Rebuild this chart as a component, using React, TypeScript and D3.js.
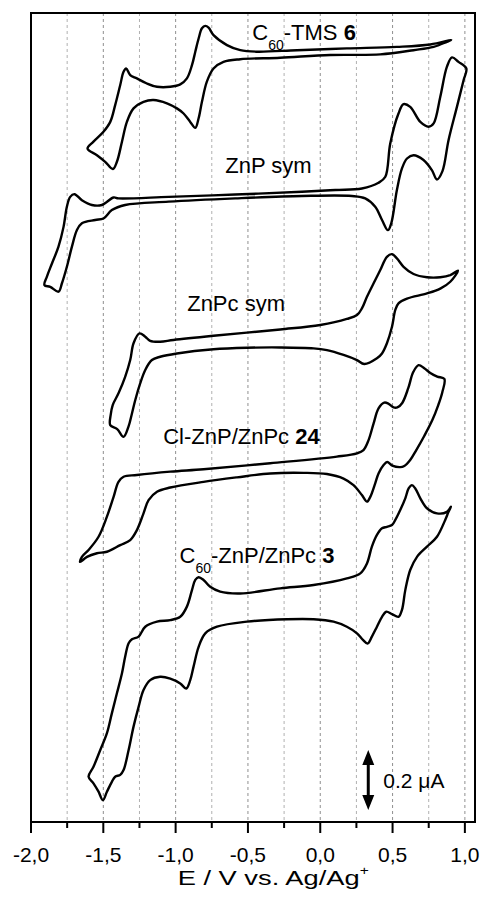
import React from 'react';
import * as d3 from 'd3';

type Pt = [number, number];

// potential ticks (V vs. Ag/Ag+)
const majorTicks = [-2, -1.5, -1, -0.5, 0, 0.5, 1];
const majorTickLabels = ['-2,0', '-1,5', '-1,0', '-0,5', '0,0', '0,5', '1,0'];
const minorTicks = [-1.75, -1.25, -0.75, -0.25, 0.25, 0.75];

// voltammograms, [E / V, stacked current / uA], traced as closed loops
const c60Tms: Pt[] = [
  [0.906, 2.607], [0.761, 2.592], [0.53, 2.584], [0.184, 2.579], [-0.161, 2.573], [-0.438, 2.568],
  [-0.553, 2.573], [-0.645, 2.59], [-0.738, 2.623], [-0.772, 2.648], [-0.795, 2.654], [-0.818, 2.646],
  [-0.841, 2.612], [-0.864, 2.568], [-0.887, 2.523], [-0.922, 2.479], [-0.968, 2.459], [-1.037, 2.451],
  [-1.129, 2.451], [-1.199, 2.462], [-1.268, 2.479], [-1.314, 2.49], [-1.342, 2.512], [-1.36, 2.501],
  [-1.383, 2.457], [-1.418, 2.39], [-1.452, 2.334], [-1.499, 2.301], [-1.568, 2.268], [-1.609, 2.245],
  [-1.544, 2.223], [-1.487, 2.201], [-1.434, 2.177], [-1.406, 2.201], [-1.371, 2.268], [-1.337, 2.334],
  [-1.291, 2.379], [-1.222, 2.401], [-1.153, 2.407], [-1.06, 2.396], [-0.991, 2.379], [-0.945, 2.362],
  [-0.899, 2.334], [-0.864, 2.314], [-0.841, 2.346], [-0.818, 2.401], [-0.784, 2.468], [-0.738, 2.512],
  [-0.669, 2.534], [-0.553, 2.543], [-0.277, 2.548], [0.069, 2.557], [0.415, 2.559], [0.645, 2.573],
  [0.784, 2.584], [0.876, 2.601],
];

const znpSym: Pt[] = [
  [1.01, 2.512], [0.956, 2.534], [0.911, 2.549], [0.876, 2.518], [0.83, 2.418], [0.784, 2.329],
  [0.749, 2.318], [0.692, 2.334], [0.622, 2.384], [0.576, 2.393], [0.541, 2.362], [0.484, 2.262],
  [0.45, 2.151], [0.403, 2.131], [0.288, 2.112], [0.104, 2.107], [-0.127, 2.101], [-0.588, 2.092],
  [-1.049, 2.084], [-1.395, 2.079], [-1.429, 2.082], [-1.51, 2.057], [-1.579, 2.057], [-1.648, 2.073],
  [-1.699, 2.093], [-1.729, 2.084], [-1.752, 2.051], [-1.775, 1.984], [-1.81, 1.918], [-1.855, 1.862],
  [-1.89, 1.818], [-1.907, 1.79],
  [-1.867, 1.784], [-1.81, 1.768], [-1.786, 1.796], [-1.752, 1.851], [-1.717, 1.918], [-1.683, 1.973],
  [-1.648, 1.996], [-1.556, 2.007], [-1.499, 2.012], [-1.441, 2.04], [-1.349, 2.057], [-1.049, 2.068],
  [-0.588, 2.079], [-0.127, 2.087], [0.219, 2.087], [0.311, 2.079], [0.38, 2.051], [0.427, 2.007],
  [0.468, 1.973], [0.491, 1.996], [0.53, 2.107], [0.565, 2.179], [0.6, 2.212], [0.645, 2.223],
  [0.714, 2.207], [0.772, 2.173], [0.807, 2.142], [0.845, 2.17], [0.887, 2.273], [0.945, 2.384],
  [0.991, 2.473],
];

const znpcSym: Pt[] = [
  [0.952, 1.838], [0.899, 1.823], [0.83, 1.816], [0.738, 1.816], [0.645, 1.827], [0.576, 1.851],
  [0.53, 1.879], [0.496, 1.893], [0.461, 1.884], [0.415, 1.84], [0.369, 1.796], [0.323, 1.751],
  [0.288, 1.712], [0.254, 1.69], [0.184, 1.677], [0.0, 1.657], [-0.277, 1.642], [-0.738, 1.621],
  [-1.015, 1.607], [-1.107, 1.601], [-1.176, 1.604], [-1.21, 1.618], [-1.25, 1.629], [-1.291, 1.596],
  [-1.314, 1.54], [-1.349, 1.484], [-1.395, 1.429], [-1.435, 1.39], [-1.449, 1.357], [-1.452, 1.323],
  [-1.404, 1.31], [-1.36, 1.284], [-1.326, 1.318], [-1.302, 1.362], [-1.279, 1.407], [-1.245, 1.462],
  [-1.21, 1.507], [-1.164, 1.54], [-1.107, 1.551], [-0.991, 1.562], [-0.738, 1.576], [-0.507, 1.581],
  [-0.277, 1.582], [-0.046, 1.579], [0.046, 1.573], [0.161, 1.557], [0.254, 1.54], [0.304, 1.527],
  [0.392, 1.546], [0.427, 1.562], [0.461, 1.596], [0.496, 1.651], [0.519, 1.707], [0.541, 1.729],
  [0.6, 1.745], [0.738, 1.762], [0.83, 1.778], [0.899, 1.801],
];

const clZnpZnpc: Pt[] = [
  [0.858, 1.477], [0.809, 1.485], [0.761, 1.497], [0.719, 1.513], [0.68, 1.523], [0.643, 1.5],
  [0.609, 1.447], [0.567, 1.397], [0.533, 1.382], [0.507, 1.382], [0.47, 1.395], [0.443, 1.398],
  [0.403, 1.379], [0.369, 1.329], [0.334, 1.273], [0.299, 1.24], [0.254, 1.229], [0.115, 1.218],
  [-0.346, 1.196], [-0.807, 1.176], [-1.037, 1.168], [-1.268, 1.157], [-1.36, 1.151], [-1.395, 1.134],
  [-1.429, 1.084], [-1.475, 1.018], [-1.533, 0.951], [-1.602, 0.907], [-1.648, 0.884], [-1.66, 0.867],
  [-1.613, 0.884], [-1.544, 0.896], [-1.475, 0.901], [-1.383, 0.923], [-1.314, 0.94], [-1.268, 0.973],
  [-1.222, 1.029], [-1.187, 1.073], [-1.129, 1.101], [-1.037, 1.115], [-0.807, 1.134], [-0.576, 1.149],
  [-0.346, 1.162], [-0.115, 1.164], [0.046, 1.16], [0.161, 1.145], [0.23, 1.123], [0.288, 1.09],
  [0.323, 1.068], [0.346, 1.084], [0.38, 1.129], [0.403, 1.162], [0.438, 1.19], [0.463, 1.2],
  [0.498, 1.188], [0.553, 1.183], [0.581, 1.187], [0.622, 1.207], [0.664, 1.24], [0.719, 1.287],
  [0.775, 1.34], [0.816, 1.39], [0.844, 1.433],
];

const c60ZnpZnpc: Pt[] = [
  [0.904, 1.051], [0.876, 1.034], [0.807, 1.029], [0.738, 1.046], [0.692, 1.079], [0.657, 1.112],
  [0.634, 1.123], [0.611, 1.112], [0.588, 1.079], [0.553, 1.04], [0.519, 1.007], [0.496, 0.99],
  [0.461, 0.984], [0.427, 0.979], [0.392, 0.957], [0.357, 0.918], [0.323, 0.862], [0.277, 0.829],
  [0.184, 0.812], [-0.046, 0.79], [-0.277, 0.779], [-0.553, 0.762], [-0.692, 0.768], [-0.761, 0.784],
  [-0.807, 0.807], [-0.841, 0.816], [-0.864, 0.807], [-0.887, 0.773], [-0.922, 0.718], [-0.968, 0.684],
  [-1.037, 0.673], [-1.129, 0.668], [-1.21, 0.651], [-1.256, 0.618], [-1.302, 0.609], [-1.325, 0.596],
  [-1.349, 0.551], [-1.371, 0.496], [-1.406, 0.429], [-1.441, 0.362], [-1.475, 0.296], [-1.521, 0.24],
  [-1.568, 0.184], [-1.602, 0.151],
  [-1.568, 0.129], [-1.533, 0.101], [-1.503, 0.073], [-1.475, 0.101], [-1.441, 0.134], [-1.418, 0.151],
  [-1.383, 0.157], [-1.36, 0.173], [-1.325, 0.24], [-1.291, 0.318], [-1.256, 0.384], [-1.222, 0.44],
  [-1.176, 0.473], [-1.107, 0.484], [-1.037, 0.478], [-0.968, 0.462], [-0.927, 0.445], [-0.899, 0.473],
  [-0.876, 0.518], [-0.841, 0.584], [-0.795, 0.629], [-0.714, 0.651], [-0.507, 0.668], [-0.23, 0.676],
  [-0.046, 0.676], [0.092, 0.668], [0.184, 0.651], [0.254, 0.629], [0.295, 0.607], [0.327, 0.595],
  [0.357, 0.618], [0.392, 0.651], [0.427, 0.684], [0.456, 0.701], [0.496, 0.693], [0.541, 0.684],
  [0.565, 0.707], [0.588, 0.773], [0.622, 0.84], [0.669, 0.884], [0.738, 0.918], [0.807, 0.951],
  [0.864, 1.007], [0.887, 1.034],
];

const loops = [c60Tms, znpSym, znpcSym, clZnpZnpc, c60ZnpZnpc];

// scale bar
const scaleBarE = 0.332;
const scaleBarRange = [0.04, 0.24];

const font = "'Liberation Sans', Arial, sans-serif";

const App = () => {
  const width = 482;
  const height = 899;
  const margin = { top: 13, right: 7, bottom: 77, left: 31 };

  const x = d3.scaleLinear().domain([-2, 1.07]).range([margin.left, width - margin.right]);
  const y = d3.scaleLinear().domain([0, 2.697]).range([height - margin.bottom, margin.top]);

  const line = d3.line<Pt>()
    .x(d => x(d[0]))
    .y(d => y(d[1]))
    .curve(d3.curveCatmullRomClosed.alpha(0.5));

  const top = margin.top;
  const bottom = height - margin.bottom;
  const grid = [...minorTicks, ...majorTicks.filter(t => t > -2)];

  const ax = x(scaleBarE);
  const ay0 = y(scaleBarRange[0]);
  const ay1 = y(scaleBarRange[1]);

  return (
    <div style={{ position: 'absolute', left: 0, top: 0 }}>
      <svg width={width} height={height} style={{ display: 'block', background: '#fff' }} fontFamily={font}>
        {/* dashed grid */}
        {grid.map(t => (
          <line key={'g' + t} x1={x(t)} x2={x(t)} y1={top} y2={bottom}
            stroke={majorTicks.includes(t) ? '#8f8f8f' : '#b0b0b0'} strokeWidth={1} strokeDasharray="3,3" />
        ))}

        {/* curves */}
        {loops.map((pts, i) => (
          <path key={i} d={line(pts) || ''} fill="none" stroke="#000" strokeWidth={2.4} strokeLinejoin="round" />
        ))}

        {/* frame */}
        <rect x={margin.left} y={top} width={width - margin.left - margin.right} height={bottom - top}
          fill="none" stroke="#000" strokeWidth={2} />

        {/* ticks */}
        {majorTicks.map(t => (
          <line key={'M' + t} x1={x(t)} x2={x(t)} y1={bottom} y2={bottom + 11} stroke="#000" strokeWidth={2} />
        ))}
        {minorTicks.map(t => (
          <line key={'m' + t} x1={x(t)} x2={x(t)} y1={bottom} y2={bottom + 6} stroke="#000" strokeWidth={2} />
        ))}
        {majorTicks.map((t, i) => (
          <text key={'l' + t} x={x(t)} y={bottom + 40} textAnchor="middle" fontSize={21}>{majorTickLabels[i]}</text>
        ))}
        {/* axis title, a little wider than plain Arial as in the source */}
        <g transform={`translate(${x(-1.0) + 2},${bottom + 63}) scale(1.3,1)`}>
          <text x={0} y={0} fontSize={21}>
            E / V vs. Ag/Ag<tspan fontSize={12} dy={-10}>+</tspan>
          </text>
        </g>

        {/* curve labels */}
        <text x={x(-0.47)} y={y(2.607)} fontSize={22}>
          C<tspan fontSize={14} dy={10}>60</tspan><tspan dy={-10}>-TMS </tspan><tspan fontWeight="bold">6</tspan>
        </text>
        <text x={x(-0.657)} y={y(2.163)} fontSize={22}>ZnP sym</text>
        <text x={x(-0.92)} y={y(1.703)} fontSize={22}>ZnPc sym</text>
        <text x={x(-1.086)} y={y(1.26)} fontSize={22}>
          Cl-ZnP/ZnPc <tspan fontWeight="bold">24</tspan>
        </text>
        <text x={x(-0.973)} y={y(0.863)} fontSize={22}>
          C<tspan fontSize={14} dy={10}>60</tspan><tspan dy={-10}>-ZnP/ZnPc </tspan><tspan fontWeight="bold">3</tspan>
        </text>

        {/* 0.2 uA scale bar */}
        <line x1={ax} x2={ax} y1={ay1 + 12} y2={ay0 - 12} stroke="#000" strokeWidth={3} />
        <path d={`M${ax},${ay1} L${ax - 6},${ay1 + 15} L${ax + 6},${ay1 + 15} Z`} fill="#000" />
        <path d={`M${ax},${ay0} L${ax - 6},${ay0 - 15} L${ax + 6},${ay0 - 15} Z`} fill="#000" />
        <text x={ax + 15} y={(ay0 + ay1) / 2 + 8} fontSize={21}>0.2 {'\u03bc'}A</text>
      </svg>
    </div>
  );
};

export default App;
